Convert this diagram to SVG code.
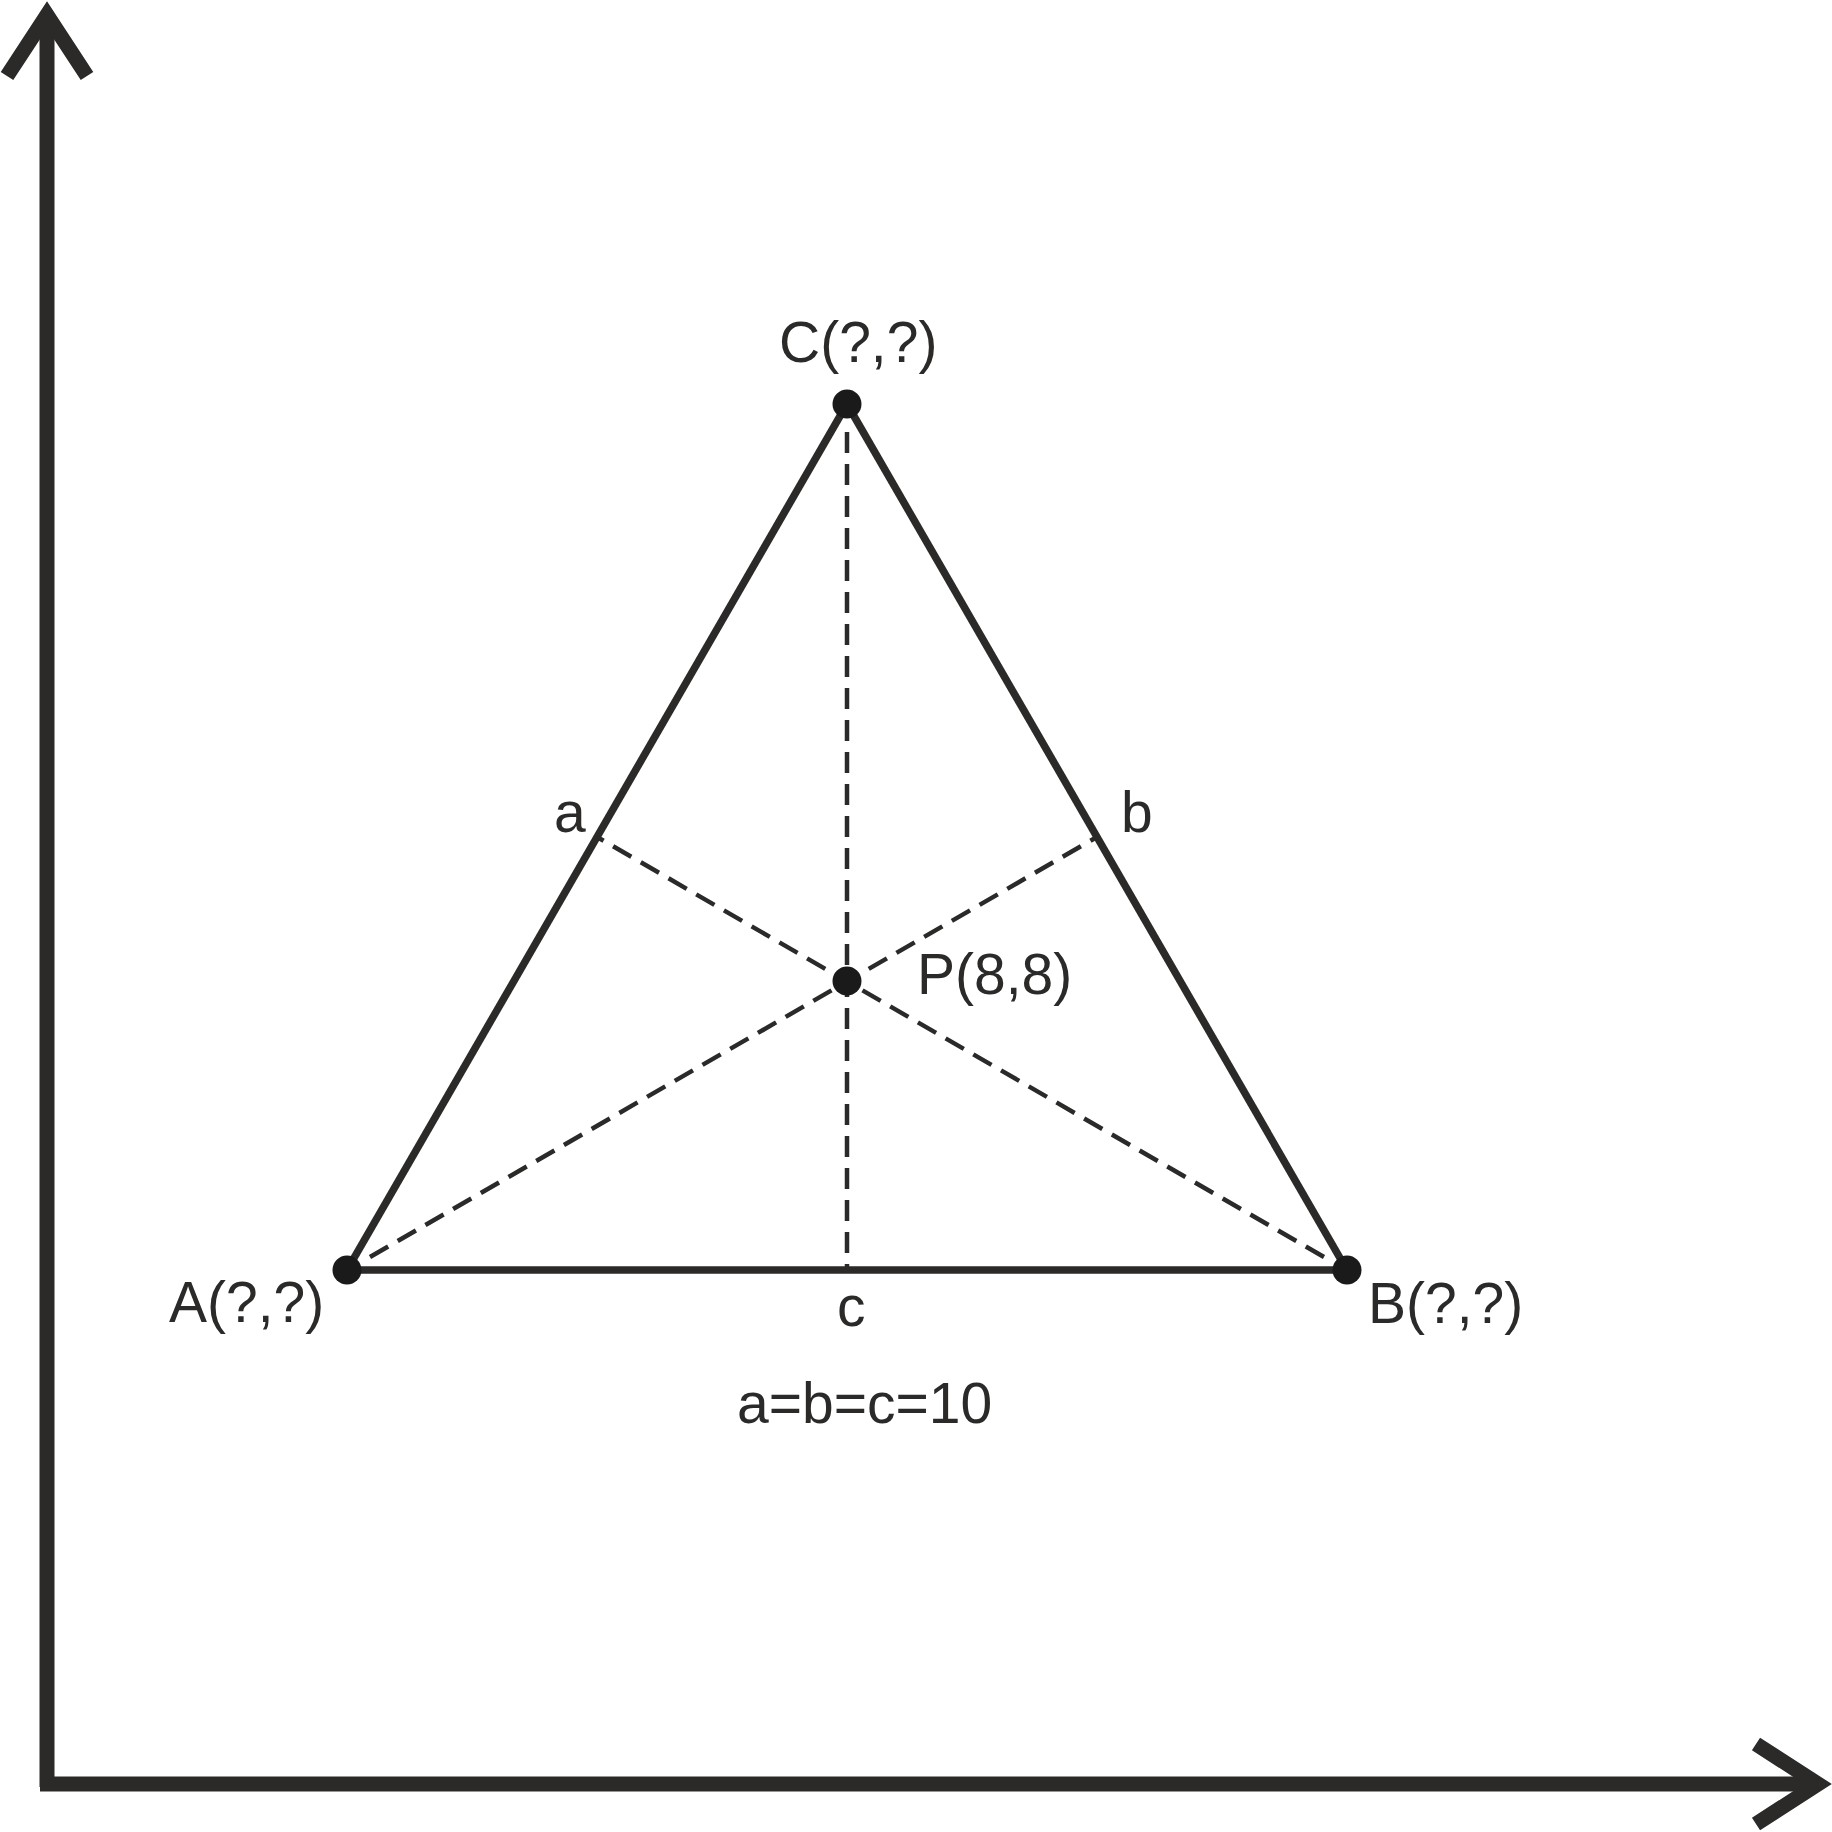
<svg xmlns="http://www.w3.org/2000/svg" width="1832" height="1832" viewBox="0 0 1832 1832">
<style>
.axis{stroke:#2b2a29;stroke-width:15;fill:none;stroke-linejoin:miter;stroke-miterlimit:10}
.side{stroke:#2b2a29;stroke-width:7.5;fill:none}
.dash{stroke:#2b2a29;stroke-width:4.5;fill:none;stroke-dasharray:21 11}
.dot{fill:#1a1a1a}
text{font-family:"Liberation Sans",Arial,sans-serif;font-size:57px;fill:#2b2a29}
</style>
<rect width="1832" height="1832" fill="#fff"/>
<g id="axes">
<line class="axis" x1="47" y1="20" x2="47" y2="1787"/>
<line class="axis" x1="40" y1="1784" x2="1814" y2="1784"/>
<polyline class="axis" points="7,76 47,15 87,76"/>
<polyline class="axis" points="1756,1744 1818,1784 1756,1824"/>
</g>
<g id="connectors">
<line class="side" x1="347" y1="1270" x2="847" y2="404"/>
<line class="side" x1="847" y1="404" x2="1347" y2="1270"/>
<line class="side" x1="347" y1="1270" x2="1347" y2="1270"/>
<line class="dash" x1="847" y1="432" x2="847" y2="1270"/>
<line class="dash" x1="370" y1="1257" x2="1097" y2="837"/>
<line class="dash" x1="1324" y1="1257" x2="597" y2="837"/>
</g>
<g id="node-A"><circle class="dot" cx="347" cy="1270" r="14.5"/><text x="169" y="1322">A(?,?)</text></g>
<g id="node-B"><circle class="dot" cx="1347" cy="1270" r="14.5"/><text x="1368" y="1323">B(?,?)</text></g>
<g id="node-C"><circle class="dot" cx="847" cy="404" r="14.5"/><text x="779" y="362">C(?,?)</text></g>
<g id="node-P"><circle class="dot" cx="847" cy="981" r="14.5"/><text x="917" y="994">P(8,8)</text></g>
<g id="labels">
<text x="554" y="832">a</text>
<text x="1121" y="832">b</text>
<text x="837" y="1326">c</text>
<text x="737" y="1423">a=b=c=10</text>
</g>
</svg>
